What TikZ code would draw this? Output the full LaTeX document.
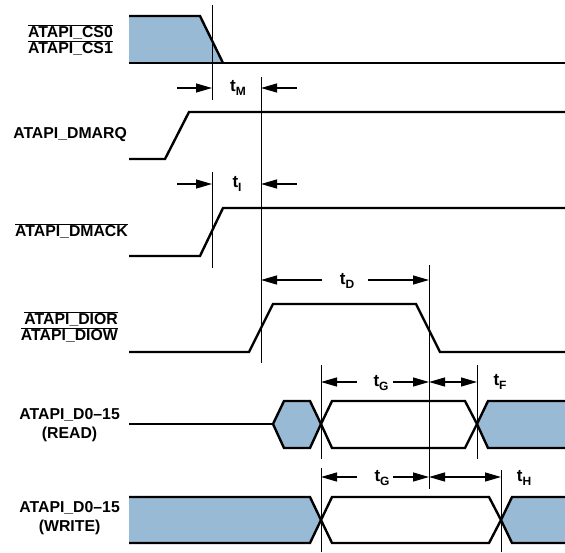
\documentclass[tikz,border=0pt]{standalone}
\usepackage{fontspec}
\setmainfont{Liberation Sans}
\usetikzlibrary{arrows.meta}
\definecolor{busblue}{RGB}{152,186,213}
\newcommand{\ovl}[1]{$\overline{\hbox{#1}}$}
\newcommand{\tsub}[1]{t\raisebox{-0.35ex}{\fontsize{12}{12}\selectfont #1}}

\begin{document}
\begin{tikzpicture}[
  x=1pt, y=-1pt,
  sig/.style  = {line width=2.4pt},
  bus/.style  = {sig, fill=busblue},
  refline/.style = {line width=0.8pt},
  dim/.style  = {line width=1.2pt, -{Triangle[length=16pt,width=9pt]}},
  dimb/.style = {line width=1.2pt, {Triangle[length=16pt,width=9pt]}-{Triangle[length=16pt,width=9pt]}},
  lbl/.style  = {anchor=east, align=right, inner sep=0pt,
                 font=\bfseries\fontsize{15.8}{16}\selectfont},
  lblc/.style = {lbl, align=center, font=\bfseries\fontsize{15.8}{19}\selectfont},
  tlbl/.style = {inner sep=0pt, font=\bfseries\fontsize{17}{17}\selectfont},
]
\useasboundingbox (0,0) rectangle (565,552);

% signal names
\node[lbl] (cs)    at (113,40)  {\ovl{ATAPI\_CS0}\\\ovl{ATAPI\_CS1}};
\node[lbl] (dmarq) at (127,135) {ATAPI\_DMARQ};
\node[lbl] (dmack) at (128,231) {\ovl{ATAPI\_DMACK}};
\node[lbl] (dior)  at (118,327) {\ovl{ATAPI\_DIOR}\\\ovl{ATAPI\_DIOW}};
\node[lblc] (rd)   at (120,425) {ATAPI\_D0--15\\(READ)};
\node[lblc] (wr)   at (120,518) {ATAPI\_D0--15\\(WRITE)};

% waveforms
\fill[busblue] (129,16) -- (200,16) -- (223,63) -- (129,63) -- cycle;
\draw[sig] (129,16) -- (200,16) -- (223,63);
\draw[sig] (129,63) -- (570,63);
\draw[sig] (129,159) -- (165,159) -- (189,112) -- (570,112);
\draw[sig] (129,256) -- (200,256) -- (223,208) -- (570,208);
\draw[sig] (129,352) -- (249,352) -- (273,304) -- (416,304) -- (440,352) -- (570,352);

% data read
\draw[sig] (129,424) -- (273,424);
\draw[bus] (273,424) -- (284,401) -- (310,401) -- (321,424) -- (310,448) -- (284,448) -- cycle;
\draw[sig] (321,424) -- (332,401) -- (465,401) -- (477,424) -- (465,448) -- (332,448) -- cycle;
\draw[bus] (477,424) -- (488,401) -- (575,401) -- (575,448) -- (488,448) -- cycle;

% data write
\fill[busblue] (129,497) -- (310,497) -- (321,520) -- (310,543) -- (129,543) -- cycle;
\draw[sig] (129,497) -- (310,497) -- (321,520) -- (310,543) -- (129,543);
\draw[sig] (321,520) -- (332,497) -- (489,497) -- (501,520) -- (489,543) -- (332,543) -- cycle;
\draw[bus] (501,520) -- (512,497) -- (575,497) -- (575,543) -- (512,543) -- cycle;

% reference lines
\draw[refline] (212,5)   -- (212,100);
\draw[refline] (212,172) -- (212,268);
\draw[refline] (261,77)  -- (261,363);
\draw[refline] (429,265) -- (429,489);
\draw[refline] (321,365) -- (321,459);
\draw[refline] (477,365) -- (477,459);
\draw[refline] (321,468) -- (321,552);
\draw[refline] (501,470) -- (501,552);

% timing labels
\node[tlbl] (tM)  at (238,88)  {\tsub{M}};
\node[tlbl] (tI)  at (237,184) {\tsub{I}};
\node[tlbl] (tD)  at (347,281) {\tsub{D}};
\node[tlbl] (tG1) at (381,383) {\tsub{G}};
\node[tlbl] (tF)  at (500,382) {\tsub{F}};
\node[tlbl] (tG2) at (382,478) {\tsub{G}};
\node[tlbl] (tH)  at (524,478) {\tsub{H}};

% arrow ends
\coordinate (m1) at (177,88);  \coordinate (m2) at (212,88);
\coordinate (m3) at (297,88);  \coordinate (m4) at (261,88);
\coordinate (i1) at (177,184); \coordinate (i2) at (212,184);
\coordinate (i3) at (297,184); \coordinate (i4) at (261,184);
\coordinate (d1) at (322,280); \coordinate (d2) at (261,280);
\coordinate (d3) at (368,280); \coordinate (d4) at (429,280);
\coordinate (g1) at (357,382); \coordinate (g2) at (321,382);
\coordinate (g3) at (393,382); \coordinate (g4) at (429,382);
\coordinate (f1) at (477,382);
\coordinate (h1) at (357,477); \coordinate (h2) at (321,477);
\coordinate (h3) at (393,477); \coordinate (h4) at (429,477);
\coordinate (h5) at (501,477);

\draw[dim]  (m1) -- (m2);
\draw[dim]  (m3) -- (m4);
\draw[dim]  (i1) -- (i2);
\draw[dim]  (i3) -- (i4);
\draw[dim]  (d1) -- (d2);
\draw[dim]  (d3) -- (d4);
\draw[dim]  (g1) -- (g2);
\draw[dim]  (g3) -- (g4);
\draw[dimb] (g4) -- (f1);
\draw[dim]  (h1) -- (h2);
\draw[dim]  (h3) -- (h4);
\draw[dimb] (h4) -- (h5);

\end{tikzpicture}
\end{document}
